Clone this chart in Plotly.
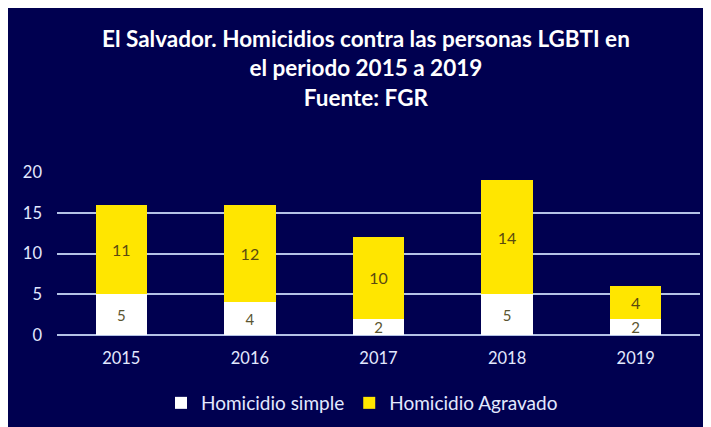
import plotly.graph_objects as go

years = ["2015", "2016", "2017", "2018", "2019"]
simple = [5, 4, 2, 5, 2]
agravado = [11, 12, 10, 14, 4]
y_ticks = [0, 5, 10, 15, 20]

NAVY = "#000050"
FONT = "Lato"
OFF = 8  # page body margin offset

fig = go.Figure()
fig.add_trace(go.Bar(
    x=years, y=simple, name="Homicidio simple",
    marker=dict(color="#FFFFFF", line=dict(width=0)),
    text=simple, textposition="inside", insidetextanchor="middle",
    textangle=0, constraintext="none",
    textfont=dict(color="#5a5530", size=15, family=FONT),
))
fig.add_trace(go.Bar(
    x=years, y=agravado, name="Homicidio Agravado",
    marker=dict(color="#FFE600", line=dict(width=0)),
    text=agravado, textposition="inside", insidetextanchor="middle",
    textangle=0, constraintext="none",
    textfont=dict(color="#5a4a10", size=16, family=FONT),
))

W, H = 711, 427
L, R, T, B = 57 - OFF, W - (700 - OFF), 172 - OFF, H - (335 - OFF)
pw, ph = W - L - R, H - T - B

def px(x):
    return (x - OFF - L) / pw

def py(y):
    return (H - B - (y - OFF)) / ph

fig.update_layout(
    width=W, height=H,
    barmode="stack", bargap=0.6,
    paper_bgcolor=NAVY, plot_bgcolor=NAVY,
    margin=dict(l=L, r=R, t=T, b=B),
    font=dict(family=FONT, color="#dfe6ff"),
    showlegend=True,
    legend=dict(orientation="h", x=px(362), xanchor="center", y=py(403), yanchor="middle",
                font=dict(size=19, color="#e3e9ff", family=FONT), traceorder="normal",
                itemwidth=30),
    xaxis=dict(showgrid=False, showline=False, zeroline=False, ticks="",
               ticklabelstandoff=11,
               tickfont=dict(size=16.5, color="#e3e9ff", family=FONT)),
    yaxis=dict(range=[0, 20], tickvals=y_ticks, showgrid=True, gridcolor="#b4c2e6",
               gridwidth=2, zeroline=True, zerolinecolor="#b4c2e6", zerolinewidth=2,
               showline=False, ticks="", ticklabelstandoff=14,
               tickfont=dict(size=16.5, color="#e3e9ff", family=FONT)),
    annotations=[dict(
        text="<b>El Salvador. Homicidios contra las personas LGBTI en<br>el periodo 2015 a 2019<br>Fuente: FGR</b>",
        xref="paper", yref="paper", x=px(366), y=py(68), xanchor="center", yanchor="middle",
        showarrow=False, font=dict(size=22.5, color="white", family=FONT),
    )],
)

fig.write_html("out.html")
